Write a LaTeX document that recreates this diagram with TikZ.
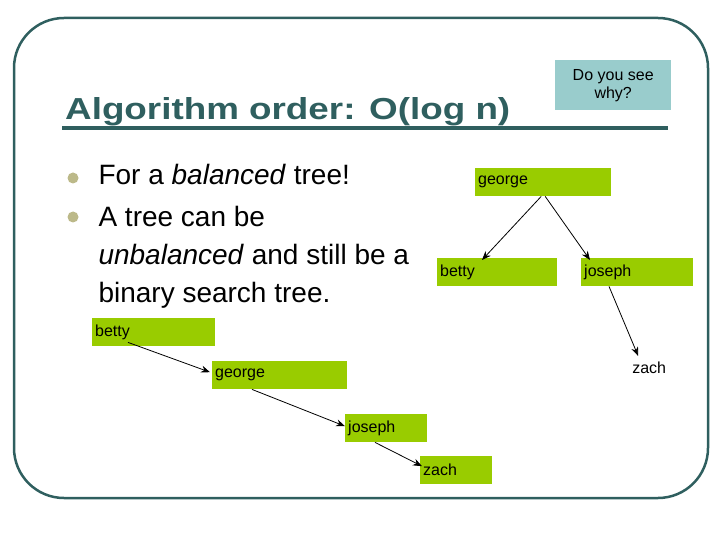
\documentclass[tikz,border=0pt]{standalone}
\usepackage{fontspec}
\setmainfont{Liberation Sans}
\usetikzlibrary{arrows.meta}
\definecolor{teal}{HTML}{2F5F5F}
\definecolor{gbox}{HTML}{99CC00}
\definecolor{bbox}{HTML}{99CCCC}
\begin{document}
\begin{tikzpicture}[x=1pt,y=-1pt,
 gn/.style={fill=gbox,minimum height=28pt,anchor=north west,inner sep=3pt,font=\fontsize{16}{18}\selectfont,align=left},
 body/.style={anchor=base west,font=\fontsize{28}{32}\selectfont},
 arr/.style={-{Stealth[length=9pt,width=7pt]},line width=0.8pt}]
\useasboundingbox (0,0) rectangle (720,540);
\draw[teal,line width=2.5pt,rounded corners=50pt] (14,18) rectangle (708,498);
\node[anchor=base west,text=teal,inner sep=0pt] (title) at (65,120) {\resizebox{445pt}{22pt}{\bfseries Algorithm order: O(log n)}};
\draw[teal,line width=3.5pt] (62,128) -- (668,128);
\node[fill=bbox,minimum width=116pt,minimum height=50pt,anchor=north west,align=center,font=\fontsize{16}{18}\selectfont] (why) at (555,60) {Do you see\\why?};
\fill[gray!55!olive!60] (73,178) circle (5.5pt);
\fill[gray!55!olive!60] (73,217) circle (5.5pt);
\node[body] (t1) at (95,185) {For a \textit{balanced} tree!};
\node[body] (t2) at (95,226) {A tree can be};
\node[body] (t3) at (95,264) {\textit{unbalanced} and still be a};
\node[body] (t4) at (95,302) {binary search tree.};
\node[gn,minimum width=136pt,text width=130pt] (g1) at (475,168) {george};
\node[gn,minimum width=120pt,text width=114pt] (be1) at (437,258) {betty};
\node[gn,minimum width=112pt,text width=106pt] (j1) at (581,258) {joseph};
\node[gn,minimum width=76pt,text width=70pt,align=center,fill=none] (z1) at (611,354) {zach};
\node[gn,minimum width=123pt,text width=117pt] (be2) at (92,318) {betty};
\node[gn,minimum width=135pt,text width=129pt] (g2) at (212,361) {george};
\node[gn,minimum width=82pt,text width=76pt] (j2) at (345,414) {joseph};
\node[gn,minimum width=72pt,text width=66pt] (z2) at (420,456) {zach};
\draw[arr] ([xshift=-2pt]g1.south) -- ([xshift=45pt,yshift=-2pt]be1.north west);
\draw[arr] ([xshift=2pt]g1.south) -- ([xshift=9pt,yshift=-2pt]j1.north west);
\draw[arr] ([xshift=28pt]j1.south west) -- ([xshift=-11pt,yshift=-2pt]z1.north);
\draw[arr] ([xshift=36pt,yshift=4pt]be2.south west) -- ([xshift=-2pt,yshift=3pt]g2.west);
\draw[arr] ([xshift=40pt]g2.south west) -- ([xshift=0pt,yshift=2pt]j2.west);
\draw[arr] ([xshift=30pt]j2.south west) -- ([xshift=2pt,yshift=4pt]z2.west);
\end{tikzpicture}
\end{document}
